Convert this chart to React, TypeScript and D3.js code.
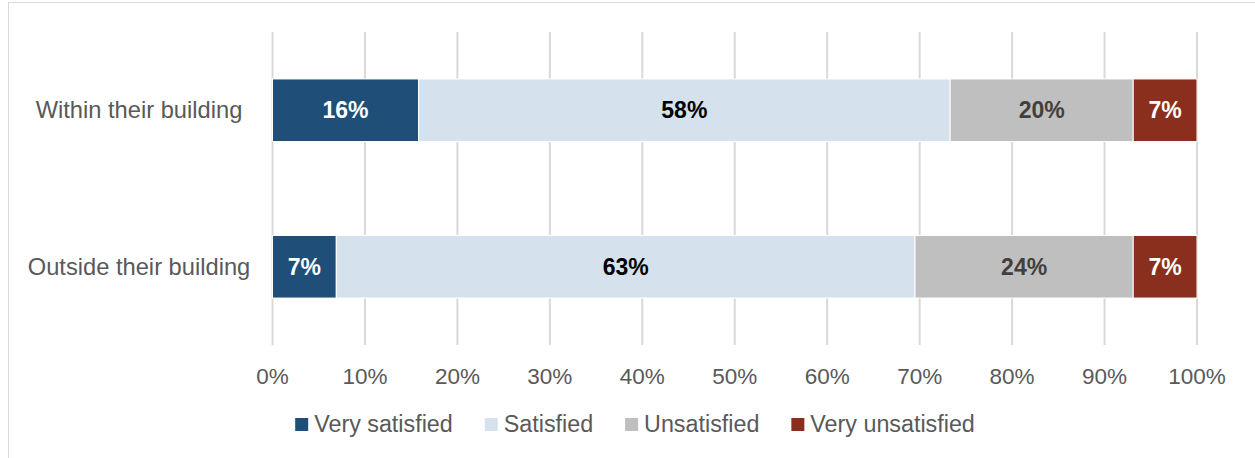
import React, { useEffect, useRef } from "react";
import * as d3 from "d3";

const categories = ["Within their building", "Outside their building"];
const seriesNames = ["Very satisfied", "Satisfied", "Unsatisfied", "Very unsatisfied"];
const verySatisfied = [15.8, 6.9];
const satisfied = [57.5, 62.6];
const unsatisfied = [19.8, 23.6];
const veryUnsatisfied = [6.9, 6.9];
const tickValues = [0, 10, 20, 30, 40, 50, 60, 70, 80, 90, 100];

const colors = ["#1F4E79", "#D5E2ED", "#BFBFBF", "#8A2F1D"];
const labelColors = ["#FFFFFF", "#000000", "#404040", "#FFFFFF"];

const W = 1255;
const H = 458;
const FONT = "'Liberation Sans', Arial, sans-serif";

export default function App() {
  const ref = useRef<SVGSVGElement | null>(null);

  useEffect(() => {
    const svg = d3.select(ref.current);
    svg.selectAll("*").remove();

    const series = [verySatisfied, satisfied, unsatisfied, veryUnsatisfied];
    const rows = categories.map((c, i) => {
      const o: any = { category: c };
      seriesNames.forEach((s, j) => (o[s] = series[j][i]));
      return o;
    });
    const stacked = d3.stack().keys(seriesNames)(rows);

    const x = d3.scaleLinear().domain([0, 100]).range([272.5, 1197]);
    const y = d3.scaleBand().domain(categories).range([32, 345]).paddingInner(0.6).paddingOuter(0.3);

    // chart border
    svg.append("rect")
      .attr("x", 8.5).attr("y", 2.5).attr("width", 1265).attr("height", 470)
      .attr("fill", "#fff").attr("stroke", "#D9D9D9").attr("stroke-width", 1);

    // gridlines
    svg.append("g").selectAll("line").data(tickValues).join("line")
      .attr("x1", (d) => x(d)).attr("x2", (d) => x(d))
      .attr("y1", 32).attr("y2", 345)
      .attr("stroke", "#D9D9D9").attr("stroke-width", 2);

    // tick labels
    svg.append("g").selectAll("text").data(tickValues).join("text")
      .attr("x", (d) => x(d)).attr("y", 376)
      .attr("text-anchor", "middle").attr("dominant-baseline", "central")
      .attr("font-family", FONT).attr("font-size", 22.5).attr("fill", "#595959")
      .text((d) => `${d}%`);

    // category labels
    svg.append("g").selectAll("text").data(categories).join("text")
      .attr("x", 139).attr("y", (d) => (y(d) as number) + y.bandwidth() / 2)
      .attr("text-anchor", "middle").attr("dominant-baseline", "central")
      .attr("font-family", FONT).attr("font-size", 23.7).attr("fill", "#595959")
      .text((d) => d);

    // bars
    const groups = svg.append("g").selectAll("g").data(stacked).join("g")
      .attr("fill", (_d, i) => colors[i]);
    groups.selectAll("rect").data((d) => d.map((v) => ({ v, key: d.key }))).join("rect")
      .attr("x", (d) => x(d.v[0]))
      .attr("width", (d) => x(d.v[1]) - x(d.v[0]))
      .attr("y", (d) => y((d.v as any).data.category) as number)
      .attr("height", y.bandwidth())
      .attr("stroke", "#FFFFFF").attr("stroke-width", 1);

    // data labels
    stacked.forEach((s, i) => {
      svg.append("g").selectAll("text").data(s).join("text")
        .attr("x", (d) => (x(d[0]) + x(d[1])) / 2)
        .attr("y", (d) => (y((d as any).data.category) as number) + y.bandwidth() / 2)
        .attr("text-anchor", "middle").attr("dominant-baseline", "central")
        .attr("font-family", FONT).attr("font-size", 23).attr("font-weight", "bold")
        .attr("fill", labelColors[i])
        .text((d) => `${Math.round(d[1] - d[0])}%`);
    });

    // legend
    const legend = svg.append("g");
    const sq = 13, gapText = 6, gapItem = 32;
    let cx = 0;
    const items: { x: number; tx: number }[] = [];
    seriesNames.forEach((name, i) => {
      const t = legend.append("text")
        .attr("font-family", FONT).attr("font-size", 23.3).attr("fill", "#595959")
        .attr("dominant-baseline", "central").attr("y", 424)
        .text(name);
      const w = (t.node() as SVGTextElement).getComputedTextLength();
      items.push({ x: cx, tx: cx + sq + gapText });
      t.attr("data-w", w);
      cx += sq + gapText + w + gapItem;
    });
    const total = cx - gapItem;
    const start = 635 - total / 2;
    legend.selectAll("text").each(function (_d, i) {
      d3.select(this).attr("x", start + items[i].tx);
    });
    seriesNames.forEach((_n, i) => {
      legend.append("rect")
        .attr("x", start + items[i].x).attr("y", 418)
        .attr("width", sq).attr("height", sq)
        .attr("fill", colors[i]);
    });
  }, []);

  return (
    <svg
      ref={ref}
      width={W}
      height={H}
      style={{ position: "absolute", left: 0, top: 0, display: "block" }}
    />
  );
}
